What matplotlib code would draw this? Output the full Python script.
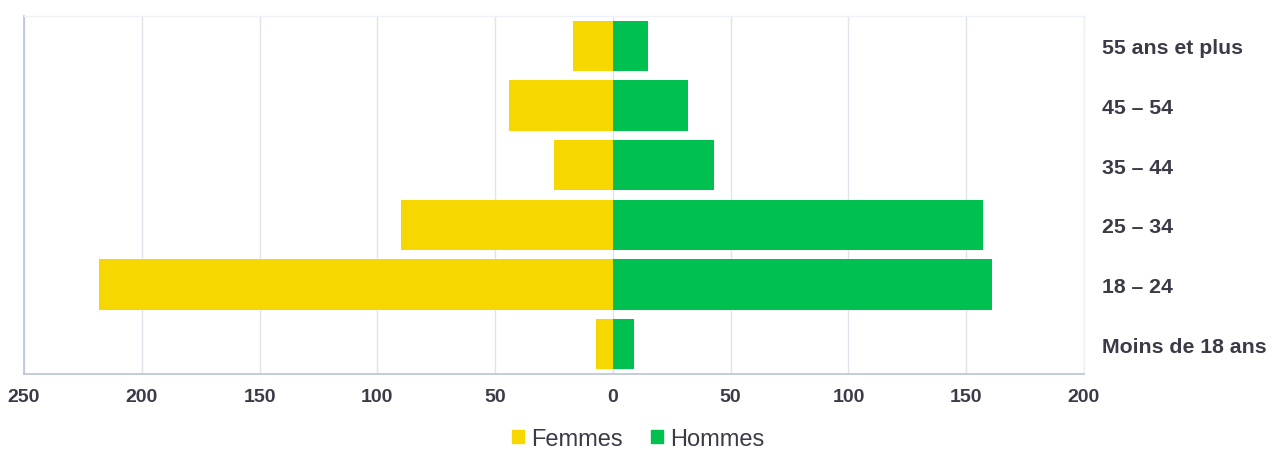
import matplotlib
matplotlib.use('Agg')
import matplotlib.pyplot as plt
from matplotlib.patches import Patch

# Tranches d'âge (du bas vers le haut)
categories = ['Moins de 18 ans', '18 – 24', '25 – 34', '35 – 44', '45 – 54', '55 ans et plus']
femmes = [7, 218, 90, 25, 44, 17]
hommes = [9, 161, 157, 43, 32, 15]
tick_values = [-250, -200, -150, -100, -50, 0, 50, 100, 150, 200]
tick_labels = [str(abs(v)) for v in tick_values]

col_f = '#F7D700'
col_h = '#00C14F'
txt = '#3d3a48'

plt.rcParams['font.family'] = ['Liberation Sans', 'DejaVu Sans']

fig = plt.figure(figsize=(12.71, 4.52), dpi=100)
ax = fig.add_axes([24 / 1271, 77 / 452, 1060 / 1271, 358 / 452])

y = range(len(categories))
ax.barh(y, [-v for v in femmes], height=0.84, color=col_f, zorder=3)
ax.barh(y, hommes, height=0.84, color=col_h, zorder=3)

ax.set_xlim(-250, 200)
ax.set_ylim(-0.5, len(categories) - 0.5)
ax.set_xticks(tick_values)
ax.set_xticklabels(tick_labels, fontsize=14, fontweight='bold', color=txt)
ax.set_yticks(list(y))
ax.set_yticklabels(categories, fontsize=15.3, fontweight='bold', color=txt)
ax.yaxis.tick_right()
ax.tick_params(axis='both', length=0)
ax.tick_params(axis='x', pad=10)
ax.tick_params(axis='y', pad=13)

ax.grid(axis='x', color='#dfe3ec', linewidth=1, zorder=0)
for side in ['left', 'bottom']:
    ax.spines[side].set_color('#b9c3d6')
    ax.spines[side].set_linewidth(1.2)
for side in ['top', 'right']:
    ax.spines[side].set_color('#eef1f6')
    ax.spines[side].set_linewidth(1)

handles = [Patch(color=col_f, label='Femmes'), Patch(color=col_h, label='Hommes')]
fig.legend(handles=handles, loc='center', bbox_to_anchor=(638 / 1271, 1 - 440 / 452),
           ncol=2, frameon=False, fontsize=17, handlelength=0.5, handleheight=0.5,
           handletextpad=0.3, columnspacing=1.2, labelcolor=txt)

fig.savefig('out.png', dpi=100)
